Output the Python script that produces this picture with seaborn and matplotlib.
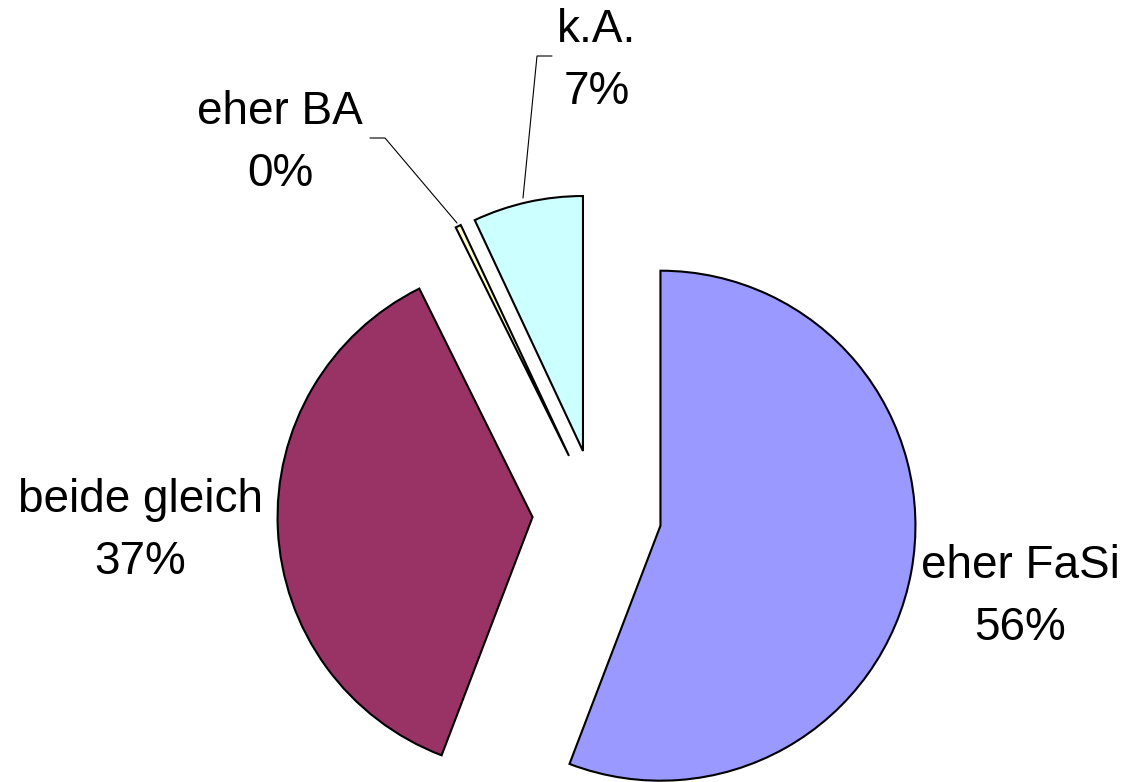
import matplotlib
matplotlib.use("Agg")
import matplotlib.pyplot as plt
import seaborn as sns

sns.set_theme(style="white")
plt.rcParams['font.family'] = ['Liberation Sans', 'DejaVu Sans']

categories = ["eher FaSi", "beide gleich", "eher BA", "k.A."]
values = [56, 37, 0.35, 7]
pct_labels = ["56%", "37%", "0%", "7%"]
colors = ["#9999FF", "#993366", "#FFFFCC", "#CCFFFF"]

W, H, DPI = 1132, 782, 100
R = 255.0
cx, cy = 597.0, 514.0

fig = plt.figure(figsize=(W / DPI, H / DPI), dpi=DPI)
ax = fig.add_axes([0, 0, 1, 1])

ax.pie(values, colors=colors, startangle=90, counterclock=False,
       explode=[0.253] * len(values), radius=1,
       wedgeprops=dict(edgecolor="black", linewidth=1.5))

ax.set_xlim(-cx / R, (W - cx) / R)
ax.set_ylim(-(H - cy) / R, cy / R)
ax.set_aspect("equal")
ax.axis("off")

def p(px, py):
    return ((px - cx) / R, (cy - py) / R)

label_pos = [p(1020, 597), p(140, 531), p(280, 143), p(597, 61)]
for cat, pl, (x, y) in zip(categories, pct_labels, label_pos):
    ax.text(x, y, f"{cat}\n{pl}", ha="center", va="center", fontsize=33,
            linespacing=1.5, color="black")

# leader lines
for pts in ([p(370, 138), p(385, 138), p(457, 223)],
            [p(552, 56), p(537, 56), p(523, 198)]):
    xs, ys = zip(*pts)
    ax.plot(xs, ys, color="black", lw=0.8)

fig.savefig("out.png", dpi=DPI, facecolor="white")
